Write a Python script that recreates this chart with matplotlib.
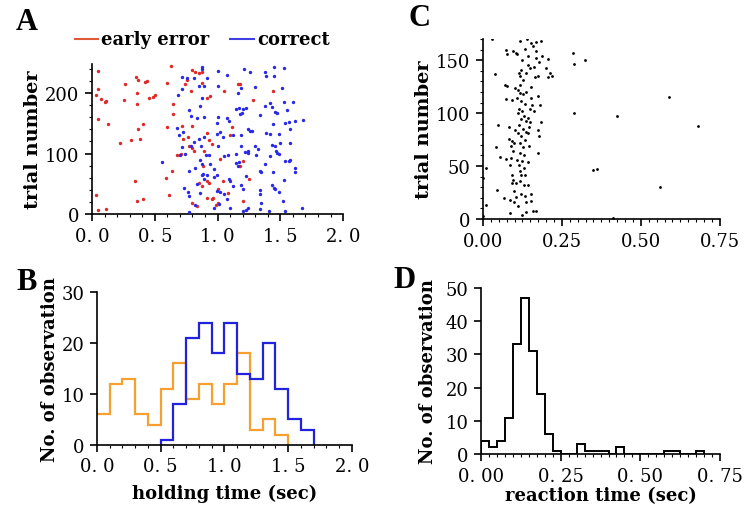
import matplotlib.pyplot as plt
import numpy as np
from matplotlib.ticker import MultipleLocator, FixedLocator, FixedFormatter

# ---- panel A: holding time vs trial number ----
err_x = [0.045, 0.05, 0.03, 0.07, 0.10, 0.115, 0.05, 0.125, 0.03, 0.045, 0.11,
         0.265, 0.255, 0.22, 0.31, 0.35, 0.365, 0.42, 0.44, 0.36, 0.355, 0.455,
         0.485, 0.505, 0.405, 0.37, 0.385, 0.345, 0.36, 0.41, 0.63, 0.60, 0.645,
         0.645, 0.60, 0.635, 0.59, 0.61, 0.675, 0.715, 0.725, 0.71, 0.765, 0.77,
         0.74, 0.755, 0.785, 0.80, 0.80, 0.81, 0.795, 0.82, 0.855, 0.875, 0.875,
         0.80, 0.835, 0.855, 0.875, 0.89, 0.955, 0.935, 0.92, 0.915, 0.94, 0.885,
         0.92, 0.935, 0.915, 0.955, 0.965, 0.99, 1.005, 1.0, 1.02, 1.04, 1.10,
         1.115, 1.05, 1.165, 1.18, 1.08, 1.18, 1.20, 1.205, 1.25, 1.28, 1.44]
err_y = [236, 206, 197, 190, 185, 186, 157, 148, 31, 7, 8,
         214, 188, 118, 123, 227, 222, 218, 219, 199, 181, 191,
         194, 197, 149, 140, 124, 55, 22, 25, 244, 216, 181,
         165, 144, 71, 59, 31, 97, 145, 124, 100, 127, 113,
         214, 221, 203, 145, 109, 105, 238, 234, 232, 234, 217,
         19, 14, 52, 47, 105, 115, 123, 134, 192, 195, 80,
         54, 51, 26, 25, 26, 15, 19, 41, 91, 54, 130,
         144, 203, 214, 215, 35, 80, 87, 22, 58, 188, 203]

cor_x = [0.875, 0.875, 0.81, 0.715, 0.755, 0.72, 0.685, 0.85, 0.89, 0.915, 1.0,
         1.075, 1.21, 1.255, 1.38, 1.39, 1.45, 1.53, 1.45, 1.30, 1.51, 1.005,
         1.16, 1.19, 0.86, 0.875, 0.77, 0.84, 0.79, 0.89, 1.0, 0.995, 1.075,
         1.09, 1.15, 1.17, 1.205, 1.23, 1.18, 1.195, 1.26, 1.275, 1.34, 1.38,
         1.42, 1.43, 1.455, 1.475, 1.53, 1.60, 1.55, 1.54, 1.575, 1.57, 1.62,
         1.68, 1.44, 1.39, 1.42, 1.49, 1.43, 1.46, 1.50, 1.575, 1.465, 1.47,
         1.42, 1.49, 1.54, 1.57, 1.58, 1.62, 1.62, 1.38, 1.34, 1.35, 1.44,
         1.53, 1.43, 1.45, 1.46, 1.49, 1.34, 1.34, 1.52, 1.35, 1.34, 1.41,
         1.54, 1.67, 1.23, 1.245, 1.205, 1.19, 1.23, 1.245, 1.245, 1.22, 1.185,
         1.145, 1.16, 1.17, 1.145, 1.085, 1.05, 1.12, 1.185, 1.30, 1.325, 1.31,
         1.10, 1.125, 1.09, 1.05, 1.075, 1.10, 1.01, 0.97, 1.02, 0.995, 0.995,
         0.97, 0.97, 0.92, 0.885, 0.875, 0.89, 0.875, 0.94, 0.91, 0.935, 0.86,
         0.82, 0.87, 0.855, 0.89, 0.81, 0.79, 0.72, 0.74, 0.725, 0.69, 0.675,
         0.70, 0.73, 0.765, 0.77, 0.775, 0.82, 0.555, 0.77, 0.835, 0.86, 1.0,
         1.04, 1.02, 0.995, 1.20, 1.245]
cor_y = [243, 239, 225, 226, 224, 206, 196, 212, 212, 225, 236,
         230, 240, 234, 234, 228, 242, 241, 228, 210, 208, 212,
         200, 208, 178, 192, 172, 159, 162, 160, 160, 151, 159,
         153, 173, 175, 174, 175, 166, 167, 138, 138, 163, 178,
         184, 176, 168, 167, 185, 185, 171, 151, 140, 152, 154,
         155, 149, 134, 132, 132, 114, 112, 118, 118, 105, 101,
         96, 99, 88, 87, 90, 76, 69, 82, 72, 69, 69,
         57, 48, 44, 41, 37, 40, 33, 22, 19, 9, 5,
         5, 10, 7, 11, 41, 48, 63, 101, 105, 102, 112,
         99, 80, 86, 85, 98, 96, 130, 130, 113, 108, 97,
         55, 47, 58, 33, 25, 11, 17, 11, 37, 39, 65,
         61, 75, 64, 66, 64, 58, 83, 83, 98, 97, 90,
         77, 113, 124, 127, 119, 113, 110, 99, 135, 131, 142,
         97, 44, 36, 30, 3, 15, 86, 72, 50, 35, 113,
         127, 136, 133, 5, 141]

# ---- panel B: holding time histograms (bin width 0.1) ----
err_edges = np.round(np.arange(0.0, 1.51, 0.1), 2)
err_counts = [6, 12, 13, 6, 4, 11, 16, 9, 12, 8, 12, 18, 3, 5, 2]
cor_edges = np.round(np.arange(0.5, 1.71, 0.1), 2)
cor_counts = [1, 8, 21, 24, 18, 24, 14, 13, 20, 11, 5, 3]

# ---- panel C: reaction time vs trial number ----
rt_x = [0.0285, 0.0, 0.008, 0.008, 0.0, 0.037, 0.048, 0.040, 0.044, 0.055,
        0.065, 0.072, 0.074, 0.076, 0.069, 0.076, 0.072, 0.082, 0.082, 0.087,
        0.085, 0.095, 0.106, 0.100, 0.091, 0.093, 0.099, 0.090, 0.095, 0.090,
        0.093, 0.095, 0.093, 0.097, 0.103, 0.097, 0.11, 0.116, 0.125, 0.121,
        0.114, 0.118, 0.127, 0.116, 0.111, 0.118, 0.127, 0.108, 0.121, 0.132,
        0.114, 0.125, 0.111, 0.129, 0.121, 0.137, 0.114, 0.127, 0.111, 0.137,
        0.121, 0.116, 0.127, 0.118, 0.129, 0.125, 0.114, 0.129, 0.121, 0.134,
        0.116, 0.129, 0.121, 0.134, 0.137, 0.125, 0.137, 0.132, 0.143, 0.153,
        0.158, 0.167, 0.185, 0.169, 0.177, 0.188, 0.20, 0.206, 0.211, 0.217,
        0.206, 0.143, 0.148, 0.160, 0.153, 0.156, 0.148, 0.143, 0.150, 0.146,
        0.143, 0.146, 0.143, 0.153, 0.153, 0.158, 0.173, 0.18, 0.183, 0.173,
        0.177, 0.175, 0.169, 0.285, 0.287, 0.322, 0.287, 0.349, 0.361, 0.423,
        0.412, 0.589, 0.681, 0.562, 0.137, 0.108, 0.085, 0.100, 0.160, 0.169,
        0.164, 0.137, 0.106, 0.143, 0.116, 0.108, 0.134, 0.153, 0.173, 0.139]
rt_y = [170, 3, 48, 13, 39, 137, 89, 68, 27, 59,
        20, 57, 160, 156, 127, 126, 113, 87, 76, 18,
        6, 159, 157, 124, 112, 74, 72, 69, 64, 58,
        42, 37, 34, 26, 21, 16, 12, 168, 150, 141,
        138, 135, 131, 127, 122, 119, 118, 114, 111, 109,
        104, 102, 100, 97, 94, 93, 89, 85, 81, 82,
        78, 72, 68, 62, 60, 55, 51, 48, 42, 42,
        36, 32, 24, 22, 16, 4, 7, 161, 154, 166,
        163, 167, 168, 152, 148, 154, 143, 151, 138, 135,
        134, 145, 143, 144, 125, 108, 104, 95, 92, 87,
        81, 69, 54, 24, 17, 8, 116, 108, 92, 84,
        78, 62, 8, 157, 146, 150, 100, 46, 47, 97,
        1, 115, 88, 30, 138, 156, 51, 84, 102, 159,
        134, 120, 34, 32, 45, 56, 75, 114, 135, 170]

# ---- panel D: reaction time histogram (bin width 0.025) ----
rt_edges = np.round(np.arange(0.0, 0.7001, 0.025), 3)
rt_counts = [4, 2, 4, 11, 33, 47, 31, 18, 6, 1, 0, 0, 3, 1, 1, 1, 0, 2,
             0, 0, 0, 0, 0, 1, 1, 0, 0, 1]

SERIF = 'DejaVu Serif'
plt.rcParams['font.family'] = SERIF


def style_axes(ax):
    for s in ['top', 'right']:
        ax.spines[s].set_visible(False)
    for s in ['left', 'bottom']:
        ax.spines[s].set_linewidth(1.2)
    ax.tick_params(which='major', direction='out', length=5, width=1.2,
                   labelsize=13, pad=4)
    ax.tick_params(which='minor', direction='out', length=2.5, width=0.8)


def ticklabels(ax, xt, xl, yt, yl):
    ax.xaxis.set_major_locator(FixedLocator(xt))
    ax.xaxis.set_major_formatter(FixedFormatter(xl))
    ax.yaxis.set_major_locator(FixedLocator(yt))
    ax.yaxis.set_major_formatter(FixedFormatter(yl))


fig = plt.figure(figsize=(7.54, 5.10), dpi=100)

# A
axA = fig.add_axes([0.122, 0.578, 0.333, 0.295])
axA.scatter(err_x, err_y, s=6, color='#e02828', linewidths=0, zorder=3)
axA.scatter(cor_x, cor_y, s=6, color='#2a2ae6', linewidths=0, zorder=3)
axA.set_xlim(0, 2.0)
axA.set_ylim(0, 248)
style_axes(axA)
ticklabels(axA, [0, 0.5, 1.0, 1.5, 2.0], ['0. 0', '0. 5', '1. 0', '1. 5', '2. 0'],
           [0, 100, 200], ['0', '100', '200'])
axA.xaxis.set_minor_locator(MultipleLocator(0.1))
axA.yaxis.set_minor_locator(MultipleLocator(20))
axA.set_ylabel('trial number', fontsize=14, fontweight='bold', labelpad=2)

# legend for A
fig.lines.append(plt.Line2D([75 / 754, 98 / 754], [1 - 40 / 510] * 2,
                            color='#e05a3a', lw=1.5, transform=fig.transFigure))
fig.text(101 / 754, 1 - 40 / 510, 'early error', fontsize=13, fontweight='bold',
         va='center', ha='left')
fig.lines.append(plt.Line2D([230 / 754, 254 / 754], [1 - 40 / 510] * 2,
                            color='#4040e0', lw=1.5, transform=fig.transFigure))
fig.text(257 / 754, 1 - 40 / 510, 'correct', fontsize=13, fontweight='bold',
         va='center', ha='left')

# B
axB = fig.add_axes([0.1286, 0.1255, 0.338, 0.300])
axB.stairs(err_counts, err_edges, color='#f5a030', lw=1.6, baseline=None)
axB.plot([err_edges[-1], err_edges[-1]], [err_counts[-1], 0], color='#f5a030', lw=1.6)
axB.stairs(cor_counts, cor_edges, color='#2222dd', lw=1.6, baseline=0)
axB.set_xlim(0, 2.0)
axB.set_ylim(0, 30)
style_axes(axB)
ticklabels(axB, [0, 0.5, 1.0, 1.5, 2.0], ['0. 0', '0. 5', '1. 0', '1. 5', '2. 0'],
           [0, 10, 20, 30], ['0', '10', '20', '30'])
axB.xaxis.set_minor_locator(MultipleLocator(0.1))
axB.set_xlabel('holding time (sec)', fontsize=13, fontweight='bold', labelpad=6)
axB.set_ylabel('No. of observation', fontsize=13, fontweight='bold', labelpad=2)

# C
axC = fig.add_axes([0.6406, 0.5686, 0.314, 0.353])
axC.scatter(rt_x, rt_y, s=4, color='black', linewidths=0, zorder=3)
axC.set_xlim(0, 0.75)
axC.set_ylim(0, 170)
style_axes(axC)
ticklabels(axC, [0, 0.25, 0.5, 0.75], ['0.00', '0.25', '0.50', '0.75'],
           [0, 50, 100, 150], ['0', '50', '100', '150'])
axC.xaxis.set_minor_locator(MultipleLocator(0.025))
axC.yaxis.set_minor_locator(MultipleLocator(10))
axC.set_ylabel('trial number', fontsize=14, fontweight='bold', labelpad=2)

# D
axD = fig.add_axes([0.638, 0.1078, 0.317, 0.3255])
axD.stairs(rt_counts, rt_edges, color='black', lw=1.4, baseline=0)
axD.set_xlim(0, 0.75)
axD.set_ylim(0, 50)
style_axes(axD)
ticklabels(axD, [0, 0.25, 0.5, 0.75], ['0. 00', '0. 25', '0. 50', '0. 75'],
           [0, 10, 20, 30, 40, 50], ['0', '10', '20', '30', '40', '50'])
axD.xaxis.set_minor_locator(MultipleLocator(0.025))
axD.set_xlabel('reaction time (sec)', fontsize=13, fontweight='bold', labelpad=1)
axD.set_ylabel('No. of observation', fontsize=13, fontweight='bold', labelpad=6)

# panel letters
for lab, x, y in [('A', 27, 22), ('B', 27, 283), ('C', 420, 18), ('D', 405, 280)]:
    fig.text(x / 754, 1 - y / 510, lab, fontsize=22, fontweight='bold',
             ha='center', va='center', family='Liberation Serif')

fig.savefig('out.png', dpi=100)
